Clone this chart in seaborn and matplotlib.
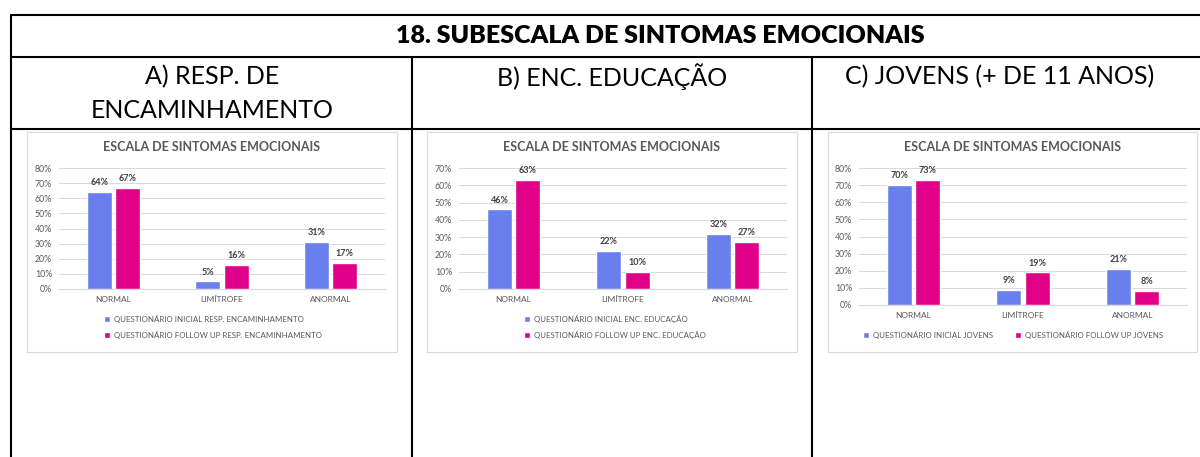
import pandas as pd
import seaborn as sns
import matplotlib.pyplot as plt
from matplotlib.lines import Line2D
from matplotlib.patches import Rectangle

W, H = 1200, 457

# data
categories = ["NORMAL", "LIMÍTROFE", "ANORMAL"]
resp_inicial = [64, 5, 31]
resp_follow = [67, 16, 17]
enc_inicial = [46, 22, 32]
enc_follow = [63, 10, 27]
jov_inicial = [70, 9, 21]
jov_follow = [73, 19, 8]

main_title = "18. SUBESCALA DE SINTOMAS EMOCIONAIS"
header_a = ["A) RESP. DE", "ENCAMINHAMENTO"]
header_b = "B) ENC. EDUCAÇÃO"
header_c = "C) JOVENS (+ DE 11 ANOS)"
chart_title = "ESCALA DE SINTOMAS EMOCIONAIS"
series_a = ["QUESTIONÁRIO INICIAL RESP. ENCAMINHAMENTO", "QUESTIONÁRIO FOLLOW UP RESP. ENCAMINHAMENTO"]
series_b = ["QUESTIONÁRIO INICIAL ENC. EDUCAÇÃO", "QUESTIONÁRIO FOLLOW UP ENC. EDUCAÇÃO"]
series_c = ["QUESTIONÁRIO INICIAL JOVENS", "QUESTIONÁRIO FOLLOW UP JOVENS"]

BLUE = "#6A7FEE"
PINK = "#E0008A"
GRID = "#D9D9D9"
TXT = "#595959"

sns.set_style("white")
plt.rcParams["font.family"] = ["Lato", "DejaVu Sans"]

fig = plt.figure(figsize=(W / 100, H / 100), dpi=100)


def fx(x):
    return x / W


def fy(y):
    return 1 - y / H


# table grid
lw = 1.5
for y in (15, 57, 129):
    fig.add_artist(Line2D([fx(11), fx(1200)], [fy(y), fy(y)], color="black", lw=lw))
fig.add_artist(Line2D([fx(11), fx(11)], [fy(15), fy(457)], color="black", lw=lw))
for x in (412, 812):
    fig.add_artist(Line2D([fx(x), fx(x)], [fy(57), fy(457)], color="black", lw=lw))

fig.text(fx(660), fy(36), main_title, ha="center", va="center", fontsize=18,
         fontweight="heavy", color="black")
fig.text(fx(212), fy(77), header_a[0], ha="center", va="center", fontsize=18, color="black")
fig.text(fx(212), fy(110), header_a[1], ha="center", va="center", fontsize=18, color="black")
fig.text(fx(612), fy(77), header_b, ha="center", va="center", fontsize=18, color="black")
fig.text(fx(1000), fy(77), header_c, ha="center", va="center", fontsize=18, color="black")

panels = [
    dict(ini=resp_inicial, fol=resp_follow, names=series_a, frame=(27, 132, 397, 352),
         plot=(59, 168, 385, 289), ymax=80, leg=(104, 315), ncol=1),
    dict(ini=enc_inicial, fol=enc_follow, names=series_b, frame=(427, 132, 797, 352),
         plot=(459, 168, 787, 289), ymax=70, leg=(524, 315), ncol=1),
    dict(ini=jov_inicial, fol=jov_follow, names=series_c, frame=(828, 132, 1197, 352),
         plot=(859, 168, 1187, 305), ymax=80, leg=(1013, 331), ncol=2),
]

for p in panels:
    l, t, r, b = p["frame"]
    fig.add_artist(Rectangle((fx(l), fy(b)), (r - l) / W, (b - t) / H, transform=fig.transFigure,
                             fill=False, ec=GRID, lw=0.8))
    fig.text(fx((l + r) / 2), fy(147), chart_title, ha="center", va="center",
             fontsize=9, fontweight="bold", color=TXT)

    pl, pt, pr, pb = p["plot"]
    ax = fig.add_axes([fx(pl), fy(pb), (pr - pl) / W, (pb - pt) / H])
    df = pd.DataFrame({
        "categoria": categories * 2,
        "valor": p["ini"] + p["fol"],
        "serie": [p["names"][0]] * 3 + [p["names"][1]] * 3,
    })
    sns.barplot(data=df, x="categoria", y="valor", hue="serie", palette=[BLUE, PINK],
                width=0.52, gap=0.12, saturation=1, ax=ax)
    ax.set_ylim(0, p["ymax"])
    ticks = list(range(0, p["ymax"] + 1, 10))
    ax.set_yticks(ticks)
    ax.set_yticklabels([f"{v}%" for v in ticks])
    ax.set_xlabel("")
    ax.set_ylabel("")
    ax.grid(axis="y", color=GRID, lw=0.7)
    ax.set_axisbelow(True)
    for s in ("top", "right", "left"):
        ax.spines[s].set_visible(False)
    ax.spines["bottom"].set_color(GRID)
    ax.spines["bottom"].set_linewidth(0.8)
    ax.tick_params(axis="y", length=0, labelsize=6.3, colors=TXT, pad=5)
    ax.tick_params(axis="x", length=0, labelsize=6, colors=TXT, pad=5)
    for c in ax.containers:
        ax.bar_label(c, fmt="%d%%", padding=3.5, fontsize=6.5, fontweight="bold", color="#404040")

    handles, labels = ax.get_legend_handles_labels()
    ax.get_legend().remove()
    if p["ncol"] == 1:
        loc = "upper left"
    else:
        loc = "upper center"
    lg = ax.legend(handles, labels, loc=loc, ncol=p["ncol"],
                   bbox_to_anchor=(fx(p["leg"][0]), fy(p["leg"][1])), bbox_transform=fig.transFigure,
                   frameon=False, fontsize=5.7, handlelength=0.7, handleheight=0.7,
                   handletextpad=0.5, labelspacing=1.0, borderpad=0, borderaxespad=0,
                   columnspacing=2.8)
    for tx in lg.get_texts():
        tx.set_color(TXT)

fig.savefig("out.png", dpi=100)
